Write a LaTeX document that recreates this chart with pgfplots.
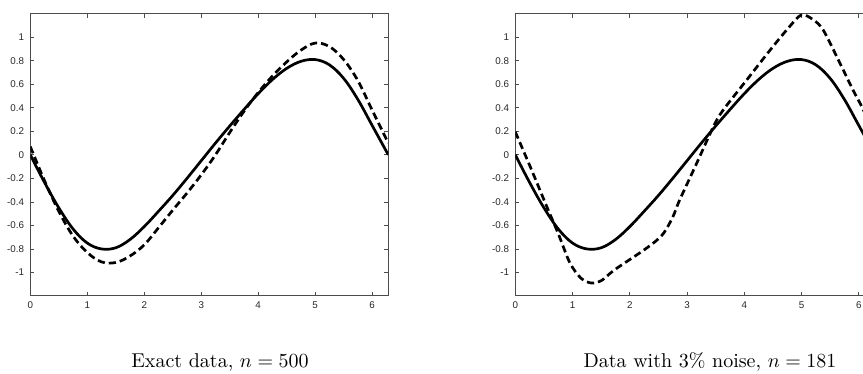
\documentclass[border=0pt]{standalone}
\usepackage{fontspec}
\usepackage{pgfplots}
\pgfplotsset{compat=1.18}
\newfontfamily\tickfont{Liberation Sans}

\begin{document}
\begin{tikzpicture}[x=1pt,y=1pt]
\path[use as bounding box] (0,0) rectangle (431.5,187);
\pgfplotsset{
  panel/.style={
    scale only axis,
    height=141.15pt,
    xmin=0, xmax=6.2832,
    ymin=-1.2, ymax=1.2,
    xtick={0,1,2,3,4,5,6},
    xticklabels={0,1,2,3,4,5,6},
    ytick={-1,-0.8,-0.6,-0.4,-0.2,0,0.2,0.4,0.6,0.8,1},
    yticklabels={-1,-0.8,-0.6,-0.4,-0.2,0,0.2,0.4,0.6,0.8,1},
    tick align=inside,
    major tick length=2pt,
    tick style={black!70, line width=0.35pt},
    axis line style={black!70, line width=0.5pt},
    tick label style={font=\tickfont\fontsize{4.9}{5.8}\selectfont, black!85},
    xticklabel style={yshift=0.5pt},
    yticklabel style={xshift=0.4pt},
    clip=true,
  },
  solid curve/.style={black, line width=1.35pt, line join=round},
  dashed curve/.style={black, line width=1.35pt, dash pattern=on 3.6pt off 2pt},
}
\begin{axis}[panel, width=179pt, at={(15.15pt,39pt)}, anchor=south west]
\addplot[solid curve, smooth, tension=0.6] coordinates {
(0,0) (0.25,-0.235) (0.5,-0.45) (0.75,-0.63) (1.0,-0.75) (1.25,-0.80) (1.5,-0.79)
(1.75,-0.72) (2.0,-0.61) (2.25,-0.48) (2.5,-0.345) (2.75,-0.20) (3.0,-0.05)
(3.25,0.10) (3.5,0.245) (3.75,0.385) (4.0,0.52) (4.25,0.64) (4.5,0.735) (4.75,0.795)
(5.0,0.81) (5.25,0.765) (5.5,0.65) (5.75,0.47) (6.0,0.25) (6.2832,0)
};
\addplot[dashed curve, smooth, tension=0.6] coordinates {
(0,0.07) (0.25,-0.22) (0.5,-0.48) (0.75,-0.69) (1.0,-0.83) (1.25,-0.91) (1.5,-0.915)
(1.75,-0.86) (2.0,-0.765) (2.25,-0.62) (2.5,-0.47) (2.75,-0.325) (3.0,-0.17)
(3.25,0.0) (3.5,0.19) (3.75,0.37) (4.0,0.53) (4.25,0.67) (4.5,0.79) (4.75,0.89)
(5.0,0.95) (5.25,0.92) (5.5,0.81) (5.75,0.63) (6.0,0.38) (6.2832,0.10)
};
\end{axis}
\begin{axis}[panel, width=179.85pt, at={(257.65pt,39pt)}, anchor=south west]
\addplot[solid curve, smooth, tension=0.6] coordinates {
(0,0) (0.25,-0.235) (0.5,-0.45) (0.75,-0.63) (1.0,-0.75) (1.25,-0.80) (1.5,-0.79)
(1.75,-0.72) (2.0,-0.61) (2.25,-0.48) (2.5,-0.345) (2.75,-0.20) (3.0,-0.05)
(3.25,0.10) (3.5,0.245) (3.75,0.385) (4.0,0.52) (4.25,0.64) (4.5,0.735) (4.75,0.795)
(5.0,0.81) (5.25,0.765) (5.5,0.65) (5.75,0.47) (6.0,0.25) (6.2832,0)
};
\addplot[dashed curve, smooth] coordinates {
(0,0.195) (0.26,-0.10) (0.55,-0.44) (0.75,-0.67) (0.955,-0.92) (1.15,-1.05)
(1.33,-1.09) (1.5,-1.07) (1.65,-1.01) (1.77,-0.965) (2.0,-0.89) (2.23,-0.815)
(2.45,-0.735) (2.6,-0.66) (2.75,-0.53) (2.87,-0.385) (3.17,-0.07) (3.46,0.24)
(3.63,0.38) (4.04,0.635) (4.45,0.89) (4.79,1.09) (5.0,1.19) (5.2,1.15) (5.38,1.06)
(5.67,0.78) (5.90,0.55) (6.02,0.44) (6.2832,0.18)
};
\end{axis}
\node[anchor=base, inner sep=0pt] at (110,3.35) {Exact data, $n=500$};
\node[anchor=base, inner sep=0pt] at (355,3.35) {Data with 3\% noise, $n=181$};
\end{tikzpicture}
\end{document}
